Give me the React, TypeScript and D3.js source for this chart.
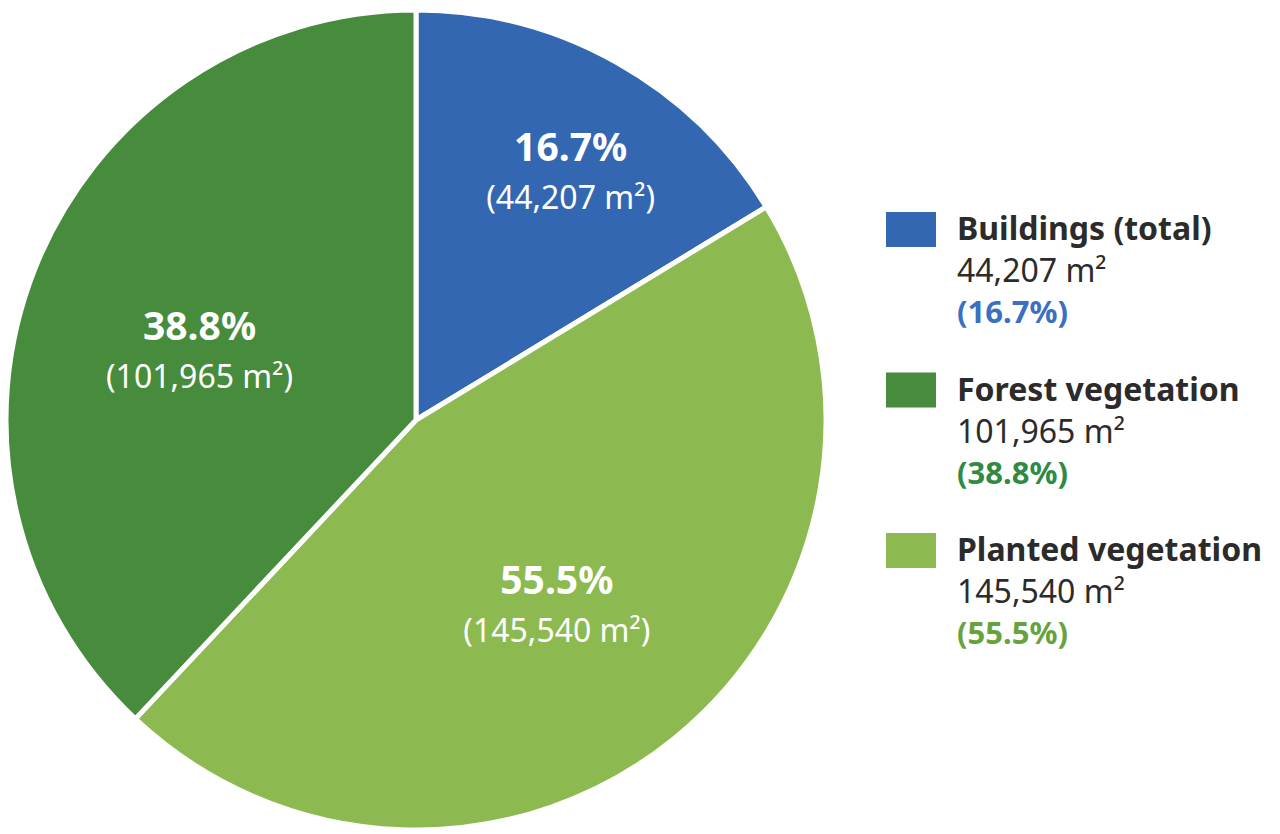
import { useEffect, useRef } from "react";
import * as d3 from "d3";

// slice order around the pie (clockwise from 12 o'clock)
const categories = ["Buildings (total)", "Planted vegetation", "Forest vegetation"];
const areas = ["44,207", "145,540", "101,965"];
const percentLabels = ["16.7%", "55.5%", "38.8%"];
// slice shares as drawn in the picture
const shares = [16.3, 45.7, 38.0];
const colors = ["#3467B2", "#8CBA50", "#478B3D"];
const legendTextColors = ["#3A6FC2", "#66A33F", "#2F8A45"];
// legend lists them in a different order
const legendOrder = [0, 2, 1];

const W = 1280;
const H = 834;

const App = () => {
	const svgRef = useRef<SVGSVGElement>(null);

	useEffect(() => {
		if (!svgRef.current) return;
		const svg = d3.select(svgRef.current);
		svg.selectAll("*").remove();

		const cx = 416;
		const cy = 420;
		const radius = 410;

		const data = categories.map((c, i) => ({
			name: c,
			share: shares[i],
			area: areas[i],
			pct: percentLabels[i],
			color: colors[i],
		}));
		type D = (typeof data)[number];

		const pie = d3
			.pie<D>()
			.sort(null)
			.value((d) => d.share);
		const arcs = pie(data);

		const arc = d3.arc<d3.PieArcDatum<D>>().innerRadius(0).outerRadius(radius);

		const g = svg.append("g").attr("transform", `translate(${cx},${cy})`);

		g.selectAll("path.slice")
			.data(arcs)
			.enter()
			.append("path")
			.attr("class", "slice")
			.attr("d", arc)
			.attr("fill", (d) => d.data.color)
			.attr("stroke", "#ffffff")
			.attr("stroke-width", 5)
			.attr("stroke-linejoin", "round");

		// label distance from centre, plus a small nudge, per slice
		const labelR = [0.72, 0.545, 0.56];
		const nudge = [
			[10, 6],
			[0, 8],
			[-3, 13],
		];
		const font = "'Noto Sans', 'Open Sans', sans-serif";

		const labels = g
			.selectAll("g.lbl")
			.data(arcs)
			.enter()
			.append("g")
			.attr("class", "lbl")
			.attr("transform", (d, i) => {
				const a = (d.startAngle + d.endAngle) / 2;
				const r = radius * labelR[i];
				return `translate(${r * Math.sin(a) + nudge[i][0]},${-r * Math.cos(a) + nudge[i][1]})`;
			});

		labels
			.append("text")
			.attr("text-anchor", "middle")
			.attr("y", -8)
			.style("font-family", font)
			.style("font-weight", 700)
			.style("font-size", "39px")
			.style("fill", "#ffffff")
			.text((d) => d.data.pct);

		labels
			.append("text")
			.attr("text-anchor", "middle")
			.attr("y", 40)
			.style("font-family", font)
			.style("font-size", "32px")
			.style("fill", "#ffffff")
			.text((d) => `(${d.data.area} m²)`);

		// legend
		const legend = svg
			.append("g")
			.selectAll("g.leg")
			.data(legendOrder)
			.enter()
			.append("g")
			.attr("class", "leg")
			.attr("transform", (_d, i) => `translate(886,${212 + i * 160.5})`);

		legend
			.append("rect")
			.attr("width", 50)
			.attr("height", 35)
			.attr("fill", (d) => colors[d]);

		legend
			.append("text")
			.attr("x", 71)
			.attr("y", 28)
			.style("font-family", font)
			.style("font-weight", 700)
			.style("font-size", "32px")
			.style("fill", "#2b2b2b")
			.text((d) => categories[d]);

		legend
			.append("text")
			.attr("x", 71)
			.attr("y", 70)
			.style("font-family", font)
			.style("font-size", "32px")
			.style("fill", "#2b2b2b")
			.text((d) => `${areas[d]} m²`);

		legend
			.append("text")
			.attr("x", 71)
			.attr("y", 111)
			.style("font-family", font)
			.style("font-weight", 700)
			.style("font-size", "31px")
			.style("fill", (d) => legendTextColors[d])
			.text((d) => `(${percentLabels[d]})`);
	}, []);

	return (
		<svg
			ref={svgRef}
			width={W}
			height={H}
			style={{ position: "absolute", left: 0, top: 0, background: "#ffffff" }}
		/>
	);
};

export default App;
